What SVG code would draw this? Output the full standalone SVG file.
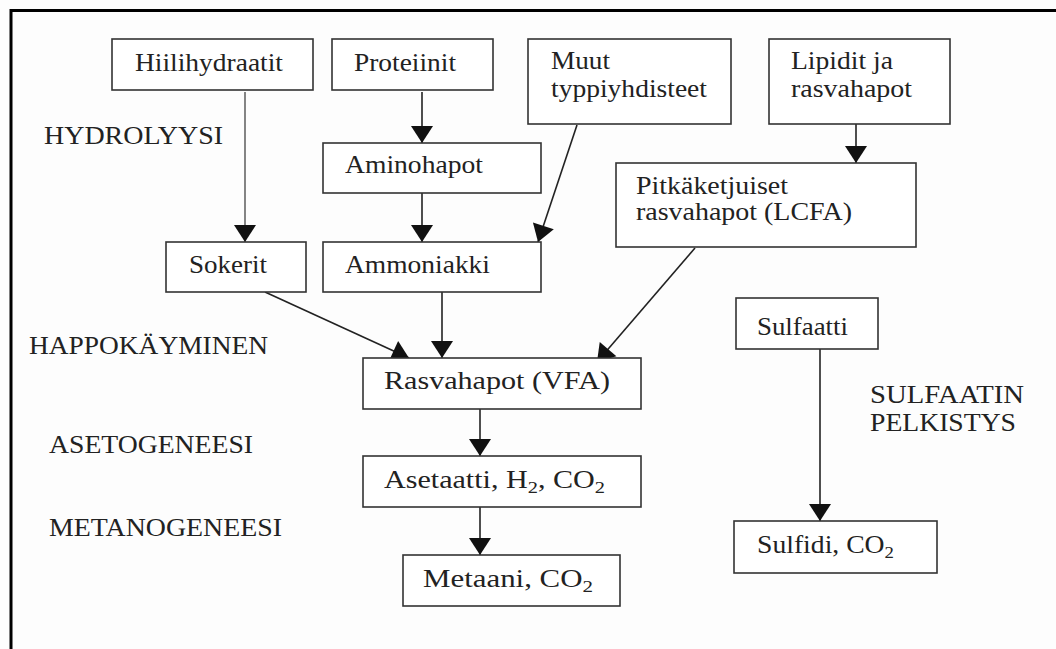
<svg xmlns="http://www.w3.org/2000/svg" width="1056" height="649" viewBox="0 0 1056 649">
<defs>
<style>
.box{fill:#fff;stroke:#333;stroke-width:1.6}
.t{font-family:"Liberation Serif","Times New Roman",serif;font-size:25px;fill:#222}
.s{font-size:17px}
.c{stroke:#222;stroke-width:1.6;fill:none;marker-end:url(#ah)}
.g{stroke:#666}
</style>
<marker id="ah" markerUnits="userSpaceOnUse" markerWidth="24" markerHeight="24" viewBox="0 -12 17 24" refX="17" refY="0" orient="auto">
<path d="M0,-11 L17,0 L0,11 Z" fill="#111"/>
</marker>
</defs>
<rect x="0" y="0" width="1056" height="649" fill="#fdfdfd"/>
<path d="M11,660 L11,10.5 L1060,10.5" fill="none" stroke="#000" stroke-width="3"/>

<g id="connectors">
<line class="c g" x1="245" y1="92" x2="245" y2="242"/>
<line class="c" x1="422" y1="92" x2="422" y2="143"/>
<line class="c" x1="422" y1="193" x2="422" y2="242"/>
<line class="c" x1="577" y1="125" x2="538" y2="242"/>
<line class="c" x1="856" y1="113" x2="856" y2="163"/>
<line class="c" x1="265" y1="292" x2="409" y2="358"/>
<line class="c" x1="442" y1="292" x2="442" y2="358"/>
<line class="c" x1="695" y1="248" x2="597" y2="362"/>
<line class="c" x1="480" y1="409" x2="480" y2="456"/>
<line class="c" x1="480" y1="507" x2="480" y2="555"/>
<line class="c" x1="820" y1="349" x2="820" y2="521"/>
</g>

<g id="hiilihydraatit"><rect class="box" x="112" y="39" width="201" height="51"/><text class="t" x="135" y="71" textLength="148" lengthAdjust="spacingAndGlyphs">Hiilihydraatit</text></g>
<g id="proteiinit"><rect class="box" x="332" y="39" width="161" height="51"/><text class="t" x="354" y="71" textLength="102" lengthAdjust="spacingAndGlyphs">Proteiinit</text></g>
<g id="muut"><rect class="box" x="528" y="39" width="203" height="85"/><text class="t" x="551" y="69" textLength="59" lengthAdjust="spacingAndGlyphs">Muut</text><text class="t" x="551" y="97" textLength="156" lengthAdjust="spacingAndGlyphs">typpiyhdisteet</text></g>
<g id="lipidit"><rect class="box" x="769" y="39" width="181" height="85"/><text class="t" x="791" y="69" textLength="102" lengthAdjust="spacingAndGlyphs">Lipidit ja</text><text class="t" x="791" y="97" textLength="121" lengthAdjust="spacingAndGlyphs">rasvahapot</text></g>
<g id="aminohapot"><rect class="box" x="323" y="143" width="218" height="50"/><text class="t" x="345" y="173" textLength="138" lengthAdjust="spacingAndGlyphs">Aminohapot</text></g>
<g id="lcfa"><rect class="box" x="616" y="163" width="300" height="84"/><text class="t" x="636" y="194" textLength="152" lengthAdjust="spacingAndGlyphs">Pitkäketjuiset</text><text class="t" x="636" y="220" textLength="216" lengthAdjust="spacingAndGlyphs">rasvahapot (LCFA)</text></g>
<g id="sokerit"><rect class="box" x="166" y="242" width="140" height="50"/><text class="t" x="189" y="273" textLength="78" lengthAdjust="spacingAndGlyphs">Sokerit</text></g>
<g id="ammoniakki"><rect class="box" x="323" y="242" width="218" height="50"/><text class="t" x="345" y="273" textLength="145" lengthAdjust="spacingAndGlyphs">Ammoniakki</text></g>
<g id="sulfaatti"><rect class="box" x="736" y="298" width="142" height="51"/><text class="t" x="757" y="335" textLength="91" lengthAdjust="spacingAndGlyphs">Sulfaatti</text></g>
<g id="vfa"><rect class="box" x="363" y="358" width="278" height="51"/><text class="t" x="384" y="389" textLength="226" lengthAdjust="spacingAndGlyphs">Rasvahapot (VFA)</text></g>
<g id="asetaatti"><rect class="box" x="363" y="456" width="278" height="51"/><text class="t" x="384" y="488" textLength="221" lengthAdjust="spacingAndGlyphs">Asetaatti, H<tspan class="s" dy="5">2</tspan><tspan dy="-5">, CO</tspan><tspan class="s" dy="5">2</tspan></text></g>
<g id="metaani"><rect class="box" x="403" y="555" width="217" height="51"/><text class="t" x="423" y="587" textLength="170" lengthAdjust="spacingAndGlyphs">Metaani, CO<tspan class="s" dy="5">2</tspan></text></g>
<g id="sulfidi"><rect class="box" x="734" y="521" width="203" height="52"/><text class="t" x="757" y="553" textLength="137" lengthAdjust="spacingAndGlyphs">Sulfidi, CO<tspan class="s" dy="5">2</tspan></text></g>

<g id="labels">
<text class="t" x="44" y="144" textLength="179" lengthAdjust="spacingAndGlyphs">HYDROLYYSI</text>
<text class="t" x="29" y="354" textLength="239" lengthAdjust="spacingAndGlyphs">HAPPOKÄYMINEN</text>
<text class="t" x="49" y="453" textLength="204" lengthAdjust="spacingAndGlyphs">ASETOGENEESI</text>
<text class="t" x="49" y="536" textLength="233" lengthAdjust="spacingAndGlyphs">METANOGENEESI</text>
<text class="t" x="870" y="403" textLength="154" lengthAdjust="spacingAndGlyphs">SULFAATIN</text>
<text class="t" x="870" y="431" textLength="146" lengthAdjust="spacingAndGlyphs">PELKISTYS</text>
</g>
</svg>
